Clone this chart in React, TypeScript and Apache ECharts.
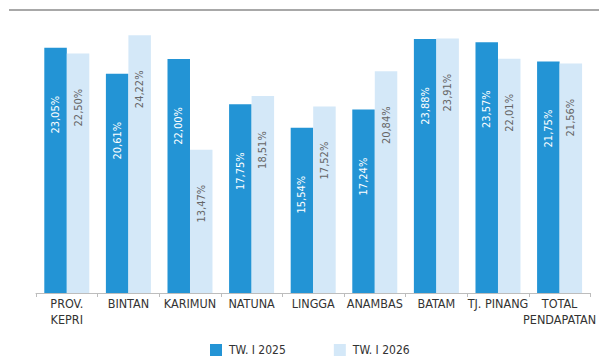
import React, { useEffect, useRef } from "react";
import * as echarts from "echarts";

const categories = ["PROV.\nKEPRI", "BINTAN", "KARIMUN", "NATUNA", "LINGGA", "ANAMBAS", "BATAM", "TJ. PINANG", "TOTAL\nPENDAPATAN"];
const seriesNames = ["TW. I 2025", "TW. I 2026"];
const values2025 = [23.05, 20.61, 22.0, 17.75, 15.54, 17.24, 23.88, 23.57, 21.75];
const values2026 = [22.5, 24.22, 13.47, 18.51, 17.52, 20.84, 23.91, 22.01, 21.56];

const condensed = '"DejaVu Sans Condensed", "Liberation Sans Narrow", sans-serif';

const fmt = (p: any) => p.value.toFixed(2).replace(".", ",") + "%";

export default function App() {
  const ref = useRef<HTMLDivElement>(null);
  useEffect(() => {
    if (!ref.current) return;
    const chart = echarts.init(ref.current, null, { renderer: "svg" });
    chart.setOption({
      animation: false,
      backgroundColor: "#ffffff",
      grid: { left: 36, right: 6, top: 27, bottom: 65, containLabel: false },
      graphic: [
        {
          type: "line",
          shape: { x1: 9, y1: 10, x2: 599, y2: 10 },
          style: { stroke: "#a8a8a8", lineWidth: 2 },
        },
      ],
      legend: {
        top: 344,
        left: 210,
        padding: 0,
        itemWidth: 12,
        itemHeight: 12,
        itemGap: 48,
        icon: "rect",
        textStyle: { color: "#333333", fontSize: 12, fontFamily: condensed, padding: [0, 0, 0, 2] },
        data: seriesNames,
      },
      xAxis: {
        type: "category",
        data: categories,
        axisLine: { lineStyle: { color: "#bdbdbd", width: 1 } },
        axisTick: { show: true, length: 4, lineStyle: { color: "#bdbdbd" } },
        axisLabel: {
          color: "#333333",
          fontSize: 12.5,
          lineHeight: 15.5,
          margin: 3,
          fontFamily: condensed,
          interval: 0,
        },
      },
      yAxis: {
        type: "value",
        min: 0,
        max: 25,
        show: false,
        splitLine: { show: false },
      },
      series: [
        {
          name: seriesNames[0],
          type: "bar",
          data: values2025,
          barWidth: 22.5,
          barGap: "0%",
          itemStyle: { color: "#2394d5" },
          label: {
            show: true,
            position: ["50%", 67],
            rotate: 90,
            align: "center",
            verticalAlign: "middle",
            color: "#ffffff",
            fontSize: 11,
            fontFamily: condensed,
            formatter: fmt,
          },
        },
        {
          name: seriesNames[1],
          type: "bar",
          data: values2026,
          barWidth: 22.5,
          barGap: "0%",
          itemStyle: { color: "#d4e8f8" },
          label: {
            show: true,
            position: ["50%", 54],
            rotate: 90,
            align: "center",
            verticalAlign: "middle",
            color: "#666666",
            fontSize: 11,
            fontFamily: condensed,
            formatter: fmt,
          },
        },
      ],
    });
    return () => chart.dispose();
  }, []);
  return <div ref={ref} style={{ width: 599, height: 358, position: "absolute", left: 0, top: 0 }} />;
}
